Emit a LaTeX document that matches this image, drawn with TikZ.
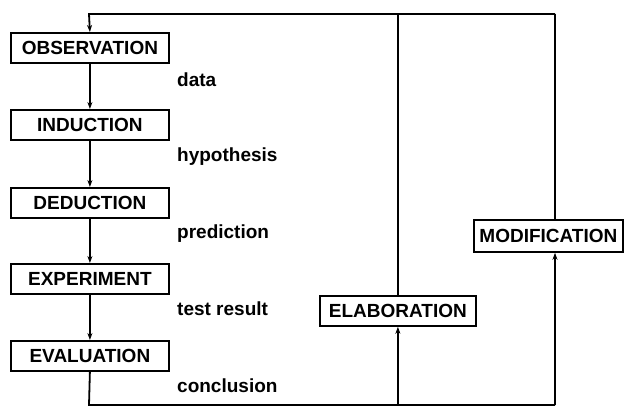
\documentclass[tikz,border=0pt]{standalone}
\usepackage{fontspec}
\setmainfont{Liberation Sans}
\usetikzlibrary{arrows.meta}
\begin{document}
\begin{tikzpicture}[x=1pt,y=-1pt,
  every node/.style={font=\fontsize{19}{21}\selectfont\bfseries},
  stage/.style={draw,line width=1.8pt,inner sep=0pt,minimum width=158pt,minimum height=30pt,anchor=north west},
  lbl/.style={anchor=base west,inner sep=0pt},
  conn/.style={line width=1.8pt},
  arr/.style={conn,-{Stealth[length=7pt,width=5pt]}}]
\useasboundingbox (0,0) rectangle (629,407);
\node[stage] (obs) at (10,32) {OBSERVATION};
\node[stage] (ind) at (10,109) {INDUCTION};
\node[stage] (ded) at (10,187) {DEDUCTION};
\node[stage] (exp) at (10,263) {EXPERIMENT};
\node[stage] (eva) at (10,340) {EVALUATION};
\node[stage,minimum width=156pt] (elab) at (319,295) {ELABORATION};
\node[stage,minimum width=149pt,minimum height=32pt] (mod) at (473,219) {MODIFICATION};
\node[lbl] (l1) at (177,86) {data};
\node[lbl] (l2) at (177,161) {hypothesis};
\node[lbl] (l3) at (177,238) {prediction};
\node[lbl] (l4) at (177,315) {test result};
\node[lbl] (l5) at (177,392) {conclusion};
\coordinate (bl) at (89,405);
\coordinate (br) at (555,405);
\coordinate (tr) at (555,14);
\coordinate (tl) at (89,14);
\draw[arr] (obs) -- (ind);
\draw[arr] (ind) -- (ded);
\draw[arr] (ded) -- (exp);
\draw[arr] (exp) -- (eva);
\draw[conn] (eva.south) -- (bl) -- (br);
\draw[arr] (bl -| elab.south) -- (elab.south);
\draw[arr] (br) -- (br |- mod.south);
\draw[conn] (br |- mod.north) -- (tr);
\draw[arr] (tr) -- (tl) -- (obs.north);
\draw[conn] (elab.north) -- (elab.north |- tl);
\end{tikzpicture}
\end{document}
